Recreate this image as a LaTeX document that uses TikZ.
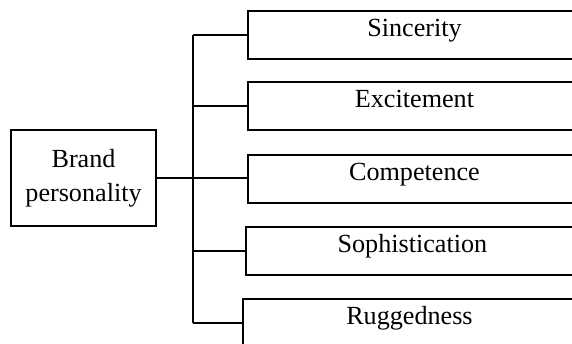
\documentclass[tikz,border=0pt]{standalone}
\usepackage{fontspec}
\setmainfont{Liberation Serif}
\begin{document}
\begin{tikzpicture}[line width=0.9pt,
	trait/.style={draw, anchor=north west, minimum width=5.55cm, inner xsep=0pt, inner ysep=0pt, text height=12.3pt, text depth=10.4pt, font=\fontsize{12.4}{15}\selectfont},
	brandbox/.style={draw, minimum width=2.42cm, minimum height=1.6cm, align=center, font=\fontsize{12.4}{16}\selectfont}]
	\useasboundingbox(0,0) rectangle (9.533,5.717);
	\clip(0,0) rectangle (9.533,5.717);
	\node[brandbox] (brand) at (1.392,2.75) {Brand\\personality};
	\node[trait] (sincerity) at (4.117,5.55) {Sincerity};
	\node[trait] (excitement) at (4.117,4.367) {Excitement};
	\node[trait] (competence) at (4.117,3.15) {Competence};
	\node[trait] (sophistication) at (4.083,1.95) {Sophistication};
	\node[trait] (ruggedness) at (4.033,0.75) {Ruggedness};
	\coordinate (trunk) at (3.217,2.75);
	\draw(brand.east)--(competence.west |- brand.east);
	\draw(sincerity.west -| trunk)--(ruggedness.west -| trunk);
	\draw(sincerity.west)--(sincerity.west -| trunk);
	\draw(excitement.west)--(excitement.west -| trunk);
	\draw(sophistication.west)--(sophistication.west -| trunk);
	\draw(ruggedness.west)--(ruggedness.west -| trunk);
\end{tikzpicture}
\end{document}
